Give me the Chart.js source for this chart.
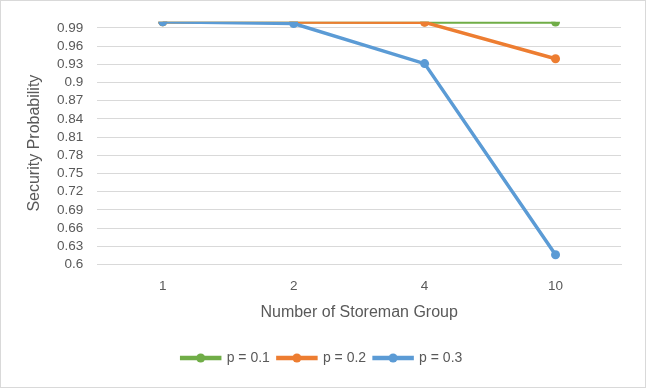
<!DOCTYPE html>
<html>
<head>
<meta charset="utf-8">
<script src="https://cdn.jsdelivr.net/npm/chart.js@4"></script>
<style>
    html, body { margin: 0; padding: 0; background: #fff; }
    #wrap { position: relative; width: 644px; height: 386px; border: 1px solid #d9d9d9; }
</style>
</head>
<body>
<div id="wrap"><canvas id="chart"></canvas></div>
<script>
// Chart data
var groups = ['1', '2', '4', '10'];
var seriesNames = ['p = 0.1', 'p = 0.2', 'p = 0.3'];
var p01 = [0.9999, 0.9998, 0.9997, 0.9994];
var p02 = [0.9999, 0.9996, 0.9990, 0.939];
var p03 = [0.9999, 0.997, 0.931, 0.616];
var seriesColors = ['#70AD47', '#ED7D31', '#5B9BD5'];

// Draw a dot in the middle of each legend line
var legendDots = {
    id: 'legendDots',
    afterDraw: function(chart) {
        var legend = chart.legend;
        if (!legend || !legend.legendHitBoxes) return;
        var ctx = chart.ctx;
        var labelOpts = legend.options.labels;
        legend.legendHitBoxes.forEach(function(box, i) {
            var item = legend.legendItems[i];
            var cx = box.left + labelOpts.boxWidth / 2;
            var cy = box.top + box.height / 2;
            ctx.save();
            ctx.fillStyle = item.strokeStyle;
            ctx.beginPath();
            ctx.arc(cx, cy, 4.5, 0, Math.PI * 2);
            ctx.fill();
            ctx.restore();
        });
    }
};

function makeSet(label, data, color, order) {
    return {
        label: label,
        data: data,
        borderColor: color,
        backgroundColor: color,
        borderWidth: 3.5,
        pointRadius: 4.5,
        pointHoverRadius: 4.5,
        pointBorderWidth: 0,
        order: order
    };
}

var tickFont = { family: 'Liberation Sans', size: 13.5, lineHeight: 1.0 };
var titleFont = { family: 'Liberation Sans', size: 16, lineHeight: 1.0 };

new Chart(document.getElementById('chart'), {
    type: 'line',
    data: {
        labels: groups,
        datasets: [
            makeSet(seriesNames[0], p01, seriesColors[0], 3),
            makeSet(seriesNames[1], p02, seriesColors[1], 2),
            makeSet(seriesNames[2], p03, seriesColors[2], 1)
        ]
    },
    options: {
        responsive: true,
        maintainAspectRatio: false,
        animation: false,
        layout: { padding: { left: 22, right: 24, top: 20, bottom: 12 } },
        plugins: {
            tooltip: { enabled: false },
            legend: {
                position: 'bottom',
                labels: {
                    boxWidth: 38,
                    boxHeight: 1,
                    padding: 8,
                    color: '#595959',
                    font: { family: 'Liberation Sans', size: 14 },
                    sort: function(a, b) { return a.datasetIndex - b.datasetIndex; }
                }
            }
        },
        scales: {
            x: {
                offset: true,
                grid: { display: false },
                border: { color: '#d9d9d9' },
                ticks: { color: '#595959', font: tickFont, padding: 7 },
                title: {
                    display: true,
                    text: 'Number of Storeman Group',
                    color: '#595959',
                    font: titleFont,
                    padding: { top: 5, bottom: 22 }
                }
            },
            y: {
                min: 0.6,
                max: 1.0,
                grid: { color: '#d9d9d9', drawTicks: false },
                border: { display: false },
                ticks: {
                    stepSize: 0.03,
                    includeBounds: false,
                    autoSkip: false,
                    color: '#595959',
                    padding: 14,
                    font: tickFont,
                    callback: function(v) { return String(Number(v.toFixed(2))); }
                },
                title: {
                    display: true,
                    text: 'Security Probability',
                    color: '#595959',
                    font: titleFont,
                    padding: { bottom: 0 }
                }
            }
        }
    },
    plugins: [legendDots]
});
</script>
</body>
</html>
